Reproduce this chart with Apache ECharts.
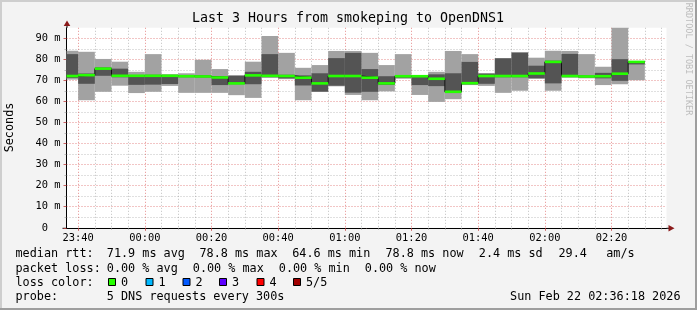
<!DOCTYPE html>
<html><head><meta charset="utf-8">
<script src="https://cdn.jsdelivr.net/npm/echarts@6/dist/echarts.min.js"></script>
<style>html,body{margin:0;padding:0;background:#f3f3f3}#c{width:697px;height:310px}</style>
</head><body><div id="c"></div>
<script>
// ---- data ----
const binEnds = ["23:40","23:45","23:50","23:55","00:00","00:05","00:10","00:15","00:20","00:25",
  "00:30","00:35","00:40","00:45","00:50","00:55","01:00","01:05","01:10","01:15",
  "01:20","01:25","01:30","01:35","01:40","01:45","01:50","01:55","02:00","02:05",
  "02:10","02:15","02:20","02:25","02:30"];
const pingMin = [70.4,60.6,64.6,67.5,64.0,64.6,67.4,64.1,64.1,64.1,
  63.0,61.7,71.2,70.6,60.6,64.5,67.2,63.1,60.6,64.8,
  70.8,63.1,59.8,61.1,67.8,67.4,64.1,65.1,70.8,65.1,
  71.3,71.0,67.8,68.2,70.1];
const ping2 = [71.2,68.4,72.2,71.5,67.9,68.0,68.3,71.5,71.4,67.8,
  68.2,68.2,71.6,71.0,67.6,64.7,67.5,64.2,64.6,67.9,
  71.3,67.8,67.3,64.4,68.2,68.4,71.5,71.5,71.0,68.6,
  71.6,71.4,71.0,69.8,77.6];
const median = [72.1,72.5,75.6,72.2,72.2,72.2,72.2,72.0,71.9,71.4,
  68.6,72.4,72.2,72.1,71.3,68.6,72.1,72.1,71.3,68.6,
  72.0,72.0,70.8,64.6,68.7,72.1,72.1,72.1,73.3,78.8,
  72.1,71.9,72.0,73.2,78.8];
const ping4 = [82.5,73.3,76.2,75.6,72.6,72.7,72.6,72.5,72.4,72.0,
  72.2,74.1,82.5,72.7,72.4,73.4,80.6,83.1,75.4,72.0,
  72.4,72.3,72.9,73.4,78.8,73.2,80.5,83.2,77.0,79.4,
  82.6,72.2,73.6,80.1,79.1];
const pingMax = [84.1,83.6,80.2,78.9,74.1,82.5,73.0,73.4,79.8,75.4,
  72.5,78.9,91.1,83.1,76.0,77.3,84.0,84.0,83.1,77.3,
  82.5,72.5,74.1,84.0,82.5,73.5,80.6,83.4,80.8,84.1,
  84.0,82.5,76.5,96.0,79.2];
const xTickLabels = ["23:40","00:00","00:20","00:40","01:00","01:20","01:40","02:00","02:20"];
const yTickValues = [0,10,20,30,40,50,60,70,80,90];
const yTickLabels = ["0\u00a0\u00a0","10 m","20 m","30 m","40 m","50 m","60 m","70 m","80 m","90 m"];

// ---- helpers ----
function toMin(s){ const [h,m]=s.split(':').map(Number); return (h>=12 ? h-23 : h+1)*60 + m; }
const X_MIN = 36.5, X_MAX = 216.5, BIN = 5;
const ends = binEnds.map(toMin);
const xMajor = xTickLabels.map(toMin);
const xMinor = [];
for (let t = 40; t < X_MAX; t += 5) if (xMajor.indexOf(t) < 0) xMinor.push(t);
const yMinor = yTickValues.slice(0, -1).map(v => v + 5);

const MONO = 'DejaVu Sans Mono';
const LIGHT = '#a2a2a2', DARK = '#545454', GREEN = '#26ff00';
const MGRID = 'rgba(215,70,70,0.62)', GRID = 'rgba(150,150,150,0.6)';

function band(color){
  return function(params, api){
    const end = api.value(0), lo = api.value(1), hi = api.value(2);
    const a = api.coord([end - BIN, hi]);
    const b = api.coord([end, lo]);
    const cs = params.coordSys;
    const r = echarts.graphic.clipRectByRect(
      {x:a[0], y:a[1], width:b[0]-a[0], height:b[1]-a[1]},
      {x:cs.x, y:cs.y, width:cs.width, height:cs.height});
    if (!r) return;
    return {type:'rect', shape:r, style:{fill:color}};
  };
}
function medianItem(params, api){
  const end = api.value(0), m = api.value(1);
  const a = api.coord([end - BIN, m]);
  const b = api.coord([end, m]);
  const cs = params.coordSys;
  const r = echarts.graphic.clipRectByRect(
    {x:a[0], y:a[1]-1.3, width:b[0]-a[0], height:2.6},
    {x:cs.x, y:cs.y, width:cs.width, height:cs.height});
  if (!r) return;
  return {type:'rect', shape:r, style:{fill:GREEN}};
}

const outer = ends.map((e,i)=>[e, pingMin[i], pingMax[i]]);
const inner = ends.map((e,i)=>[e, ping2[i], ping4[i]]);
const med = ends.map((e,i)=>[e, median[i]]);
const stepLine = [[ends[0]-BIN, median[0]]].concat(med);

const GL = 66.5, GT = 27.8, GW = 600, GH = 200;

const chart = echarts.init(document.getElementById('c'), null, {renderer:'canvas'});

const legendText = [];
function t(x, y, s, extra){ legendText.push(Object.assign({type:'text', x:x, y:y,
  style:{text:s, font:'11.8px ' + MONO, fill:'#000', verticalAlign:'middle', align:'left'}}, extra||{})); }
t(15.5,254,'median rtt:'); t(106.8,254,'71.9 ms avg'); t(199.5,254,'78.8 ms max');
t(292.2,254,'64.6 ms min'); t(385.5,254,'78.8 ms now'); t(478.8,254,'2.4 ms sd');
t(558.5,254,'29.4'); t(606.2,254,'am/s');
t(15.5,268.7,'packet loss:'); t(106.8,268.7,'0.00 % avg'); t(192.8,268.7,'0.00 % max');
t(278.8,268.7,'0.00 % min'); t(364.8,268.7,'0.00 % now');
t(15.5,282.7,'loss color:');
const lossColors = ['#26ff00','#00b8ff','#0059ff','#5e00ff','#ff0000','#a10000'];
const lossLabels = ['0','1','2','3','4','5/5'];
const boxX = [108,145.5,182.5,219,256.5,293];
lossColors.forEach((c,i)=>{
  legendText.push({type:'rect', shape:{x:boxX[i]+0.5, y:278.5, width:7, height:7},
    style:{fill:c, stroke:'#000', lineWidth:1}});
  t(boxX[i]+13, 282.7, lossLabels[i]);
});
t(15.5,296.7,'probe:'); t(106.8,296.7,'5 DNS requests every 300s');
legendText.push({type:'text', x:680.5, y:296.7, style:{text:'Sun Feb 22 02:36:18 2026',
  font:'11.8px ' + MONO, fill:'#000', verticalAlign:'middle', align:'right'}});

const graphics = [
  // frame
  {type:'rect', shape:{x:0,y:0,width:697,height:2}, style:{fill:'#cecece'}, silent:true},
  {type:'rect', shape:{x:0,y:0,width:2,height:310}, style:{fill:'#cecece'}, silent:true},
  {type:'rect', shape:{x:0,y:308,width:697,height:2}, style:{fill:'#9e9e9e'}, silent:true},
  {type:'rect', shape:{x:695,y:0,width:2,height:310}, style:{fill:'#9e9e9e'}, silent:true},
  // title
  {type:'text', x:348, y:19, style:{text:'Last 3 Hours from smokeping to OpenDNS1',
    font:'13.3px ' + MONO, fill:'#000', align:'center', verticalAlign:'middle'}},
  // y name
  {type:'text', x:10, y:127.5, rotation:Math.PI/2, style:{text:'Seconds',
    font:'11.8px ' + MONO, fill:'#000', align:'center', verticalAlign:'middle'}},
  // watermark
  {type:'text', x:688, y:59, rotation:-Math.PI/2, style:{text:'RRDTOOL / TOBI OETIKER',
    font:'8.5px ' + MONO, fill:'#bdbdbd', align:'center', verticalAlign:'middle'}},
  // axis extensions and arrows
  {type:'line', shape:{x1:GL+0.5, y1:GT, x2:GL+0.5, y2:24}, style:{stroke:'#000', lineWidth:1}},
  {type:'line', shape:{x1:62.5, y1:GT+GH+0.5, x2:GL, y2:GT+GH+0.5}, style:{stroke:'#000', lineWidth:1}},
  {type:'line', shape:{x1:GL+GW, y1:GT+GH+0.5, x2:669, y2:GT+GH+0.5}, style:{stroke:'#000', lineWidth:1}},
  {type:'polygon', shape:{points:[[GL+0.5,20.5],[GL-2.8,26],[GL+3.8,26]]}, style:{fill:'#8b1a1a'}},
  {type:'polygon', shape:{points:[[674.5,GT+GH+0.5],[668.5,GT+GH-2.8],[668.5,GT+GH+3.8]]}, style:{fill:'#8b1a1a'}}
].concat(legendText);

const axisLabelFont = {fontFamily:MONO, fontSize:10.4, color:'#000'};

chart.setOption({
  animation:false,
  backgroundColor:'#f3f3f3',
  grid:{left:GL, top:GT, width:GW, height:GH, show:true, backgroundColor:'#ffffff', borderWidth:0, containLabel:false},
  xAxis:[
    {type:'value', min:X_MIN, max:X_MAX, position:'bottom',
     axisLine:{show:true, onZero:false, lineStyle:{color:'#000', width:1}},
     axisTick:{show:true, customValues:xMajor, length:3, lineStyle:{color:'rgba(190,60,60,0.8)'}},
     axisLabel:Object.assign({customValues:xMajor, margin:5,
       formatter:v=>{const i=xMajor.indexOf(Math.round(v)); return i>=0?xTickLabels[i]:'';}}, axisLabelFont),
     splitLine:{show:true, lineStyle:{color:MGRID, type:[1,2], width:1}}},
    {type:'value', min:X_MIN, max:X_MAX, position:'bottom',
     axisLine:{show:false},
     axisTick:{show:true, customValues:xMinor, length:2, lineStyle:{color:GRID}},
     axisLabel:{show:false},
     splitLine:{show:true, lineStyle:{color:GRID, type:[1,2], width:1}}}
  ],
  yAxis:[
    {type:'value', min:0, max:95, position:'left',
     axisLine:{show:true, onZero:false, lineStyle:{color:'#000', width:1}},
     axisTick:{show:true, customValues:yTickValues, length:3, lineStyle:{color:'rgba(190,60,60,0.8)'}},
     axisLabel:Object.assign({customValues:yTickValues, margin:6,
       formatter:v=>{const i=yTickValues.indexOf(Math.round(v)); return i>=0?yTickLabels[i]:'';}}, axisLabelFont),
     splitLine:{show:true, lineStyle:{color:MGRID, type:[1,2], width:1}}},
    {type:'value', min:0, max:95, position:'left',
     axisLine:{show:false},
     axisTick:{show:true, customValues:yMinor, length:2, lineStyle:{color:GRID}},
     axisLabel:{show:false},
     splitLine:{show:true, lineStyle:{color:GRID, type:[1,2], width:1}}}
  ],
  series:[
    {type:'custom', name:'outer', xAxisIndex:0, yAxisIndex:0, renderItem:band(LIGHT), data:outer, encode:{x:0,y:[1,2]}, z:2},
    {type:'custom', name:'inner', xAxisIndex:0, yAxisIndex:0, renderItem:band(DARK), data:inner, encode:{x:0,y:[1,2]}, z:3},
    {type:'line', name:'medianStep', xAxisIndex:0, yAxisIndex:0, data:stepLine, step:'start', symbol:'none',
     lineStyle:{color:'#111', width:1}, z:4, silent:true},
    {type:'custom', name:'median', xAxisIndex:0, yAxisIndex:0, renderItem:medianItem, data:med, encode:{x:0,y:1}, z:5}
  ],
  graphic:graphics
});
</script></body></html>
